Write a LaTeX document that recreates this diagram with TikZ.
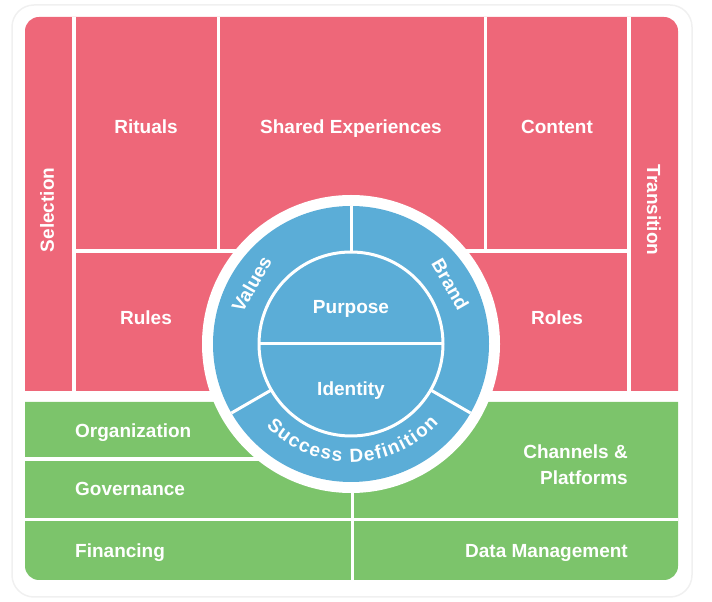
\documentclass[tikz,border=0pt]{standalone}
\usepackage{fontspec}
\setmainfont{Liberation Sans}
\usetikzlibrary{decorations.text}
\newcommand\cultfont{\fontsize{19}{26}\selectfont\bfseries}

\begin{document}
\begin{tikzpicture}[x=1pt,y=1pt]
\definecolor{cultPink}{HTML}{EE6779}
\definecolor{cultGreen}{HTML}{7CC46B}
\definecolor{cultBlue}{HTML}{5BADD7}
\definecolor{cardEdge}{HTML}{F0F0F0}
\tikzset{
  lbl/.style={text=white,font=\cultfont,inner sep=0pt,text height=13.6pt,text depth=0pt},
  gap/.style={white,line width=3.5pt},
}
\useasboundingbox (0,0) rectangle (712,602);
\draw[cardEdge,line width=1.5pt,rounded corners=22pt] (12,5) rectangle (692,597);
% the two colour blocks
\fill[cultPink] (25,211) [rounded corners=14pt] -- (25,585) -- (678,585) [sharp corners] -- (678,211) -- cycle;
\fill[cultGreen] (25,200) -- (678,200) [rounded corners=14pt] -- (678,22) -- (25,22) [sharp corners] -- cycle;
\foreach \x in {74,629} {
  \draw[gap] (\x,211) -- (\x,585);
}
\foreach \x in {218.5,485.5} {
  \draw[gap] (\x,351) -- (\x,585);
}
\draw[gap] (74,351) -- (629,351);
\draw[gap] (25,143) -- (352.5,143);
\draw[gap] (25,82.5) -- (678,82.5);
\draw[gap] (352.5,22) -- (352.5,200);
% the wheel
\coordinate (hub) at (351,258);
\fill[white] (hub) circle (149);
\fill[cultBlue] (hub) circle (138);
\draw[gap,line width=3pt] (hub) circle (92);
\draw[gap,line width=3pt] ([xshift=-92]hub) -- ([xshift=92]hub);
\foreach \a in {90,210,330} {
  \draw[gap,line width=3pt] ([shift={(\a:92)}]hub) -- ([shift={(\a:138)}]hub);
}
\node[lbl] (rituals) at (146,475) {Rituals};
\node[lbl] (shared) at (351,475) {Shared Experiences};
\node[lbl] (content) at (557,475) {Content};
\node[lbl,rotate=90] (selection) at (47,392) {Selection};
\node[lbl,rotate=-90] (transition) at (654,392) {Transition};
\node[lbl] (rules) at (146,284) {Rules};
\node[lbl] (roles) at (557,284) {Roles};
\node[lbl] (purpose) at (351,295) {Purpose};
\node[lbl] (identity) at (351,213) {Identity};
\node[lbl,rotate=60] (values) at ([shift={(149:116)}]hub) {Values};
\node[lbl,rotate=-60] (brand) at ([shift={(31:116)}]hub) {Brand};
\path[decorate,decoration={text along path,text align=fit to path,text color=white,
  text={|\cultfont|Success Definition}}]
  ([shift={(224:118)}]hub) arc[start angle=224,end angle=318,radius=118];
\node[lbl,anchor=west] (organization) at (75,171) {Organization};
\node[lbl,anchor=west] (governance) at (75,113) {Governance};
\node[lbl,anchor=west] (financing) at (75,51) {Financing};
\node[lbl,anchor=east,align=right] (channels) at (628,124) {Channels \&\\Platforms};
\node[lbl,anchor=east] (datamgmt) at (628,51) {Data Management};
\end{tikzpicture}
\end{document}
